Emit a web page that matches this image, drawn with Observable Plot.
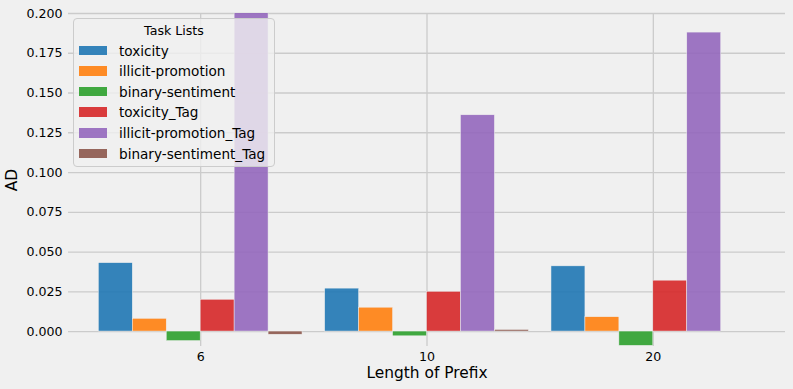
<!DOCTYPE html>
<html><head><meta charset="utf-8">
<script src="https://cdn.jsdelivr.net/npm/d3@7"></script>
<script src="https://cdn.jsdelivr.net/npm/@observablehq/plot@0.6"></script>
<style>
html,body{margin:0;padding:0;background:#f0f0f0;}
#wrap{position:relative;width:793px;height:389px;font-family:"DejaVu Sans",sans-serif;overflow:hidden;}
#legend{position:absolute;left:73px;top:18px;width:202px;height:149px;box-sizing:border-box;background:rgba(240,240,240,0.8);border:1px solid #cccccc;border-radius:4px;}
#legend .title{position:absolute;left:0;right:0;top:4px;text-align:center;font-size:12.6px;line-height:16px;color:#000;}
#legend .row{position:absolute;left:0;height:20px;width:100%;}
#legend .sw{position:absolute;left:5px;top:5px;width:28px;height:9.5px;}
#legend .lab{position:absolute;left:45px;top:0;font-size:13.6px;line-height:20px;color:#000;white-space:nowrap;}
</style></head><body><div id="wrap"></div>
<script>
const prefixLengths = ["6", "10", "20"];
const series = ["toxicity", "illicit-promotion", "binary-sentiment", "toxicity_Tag", "illicit-promotion_Tag", "binary-sentiment_Tag"];
const colors = ["#1f77b4", "#ff7f0e", "#2ca02c", "#d62728", "#9467bd", "#8c564b"];
const toxicity = [0.043, 0.027, 0.041];
const illicitPromotion = [0.008, 0.015, 0.009];
const binarySentiment = [-0.006, -0.003, -0.009];
const toxicityTag = [0.020, 0.025, 0.032];
const illicitPromotionTag = [0.205, 0.136, 0.188];
const binarySentimentTag = [-0.002, 0.001, 0.0];
const yTicks = [0, 0.025, 0.05, 0.075, 0.1, 0.125, 0.15, 0.175, 0.2];

const values = [toxicity, illicitPromotion, binarySentiment, toxicityTag, illicitPromotionTag, binarySentimentTag];
const barW = 0.15;
const rows = [];
series.forEach((s, si) => {
  prefixLengths.forEach((p, gi) => {
    const x1 = gi + (si - 3) * barW;
    rows.push({series: s, prefix: p, value: values[si][gi], x1, x2: x1 + barW});
  });
});
const groupIdx = prefixLengths.map((d, i) => i);

const chart = Plot.plot({
  width: 793, height: 389,
  marginLeft: 68, marginRight: 8, marginTop: 13, marginBottom: 43,
  style: {background: "#f0f0f0", fontFamily: "DejaVu Sans, sans-serif", fontSize: "12.6px", color: "#000", overflow: "visible"},
  x: {domain: [-0.584, 2.584]},
  y: {domain: [-0.0094, 0.2]},
  color: {domain: series, range: colors},
  marks: [
    Plot.gridY(yTicks, {stroke: "#cbcbcb", strokeOpacity: 1, strokeWidth: 1.3}),
    Plot.gridX(groupIdx, {stroke: "#cbcbcb", strokeOpacity: 1, strokeWidth: 1.3}),
    Plot.rect(rows, {x1: "x1", x2: "x2", y1: 0, y2: "value", fill: "series", fillOpacity: 0.9, stroke: "#f0f0f0", strokeWidth: 0.5, clip: true}),
    Plot.axisY(yTicks, {tickSize: 0, tickPadding: 6, tickFormat: d3.format(".3f"), label: null, fill: "#000"}),
    Plot.axisX(groupIdx, {tickSize: 0, tickPadding: 6, tickFormat: i => prefixLengths[i], label: null, fill: "#000"}),
    Plot.text(["AD"], {frameAnchor: "left", dx: -56, rotate: -90, textAnchor: "middle", fontSize: 15.4, fill: "#000"}),
    Plot.text(["Length of Prefix"], {frameAnchor: "bottom", dy: 27, lineAnchor: "middle", fontSize: 15.4, fill: "#000"})
  ]
});
const wrap = document.getElementById("wrap");
wrap.appendChild(chart);

const legend = document.createElement("div");
legend.id = "legend";
const title = document.createElement("div");
title.className = "title";
title.textContent = "Task Lists";
legend.appendChild(title);
series.forEach((s, i) => {
  const row = document.createElement("div");
  row.className = "row";
  row.style.top = (21.5 + i * 20.65) + "px";
  const sw = document.createElement("div");
  sw.className = "sw";
  sw.style.background = colors[i];
  sw.style.opacity = 0.9;
  const lab = document.createElement("div");
  lab.className = "lab";
  lab.textContent = s;
  row.appendChild(sw);
  row.appendChild(lab);
  legend.appendChild(row);
});
wrap.appendChild(legend);
</script>
</body></html>
